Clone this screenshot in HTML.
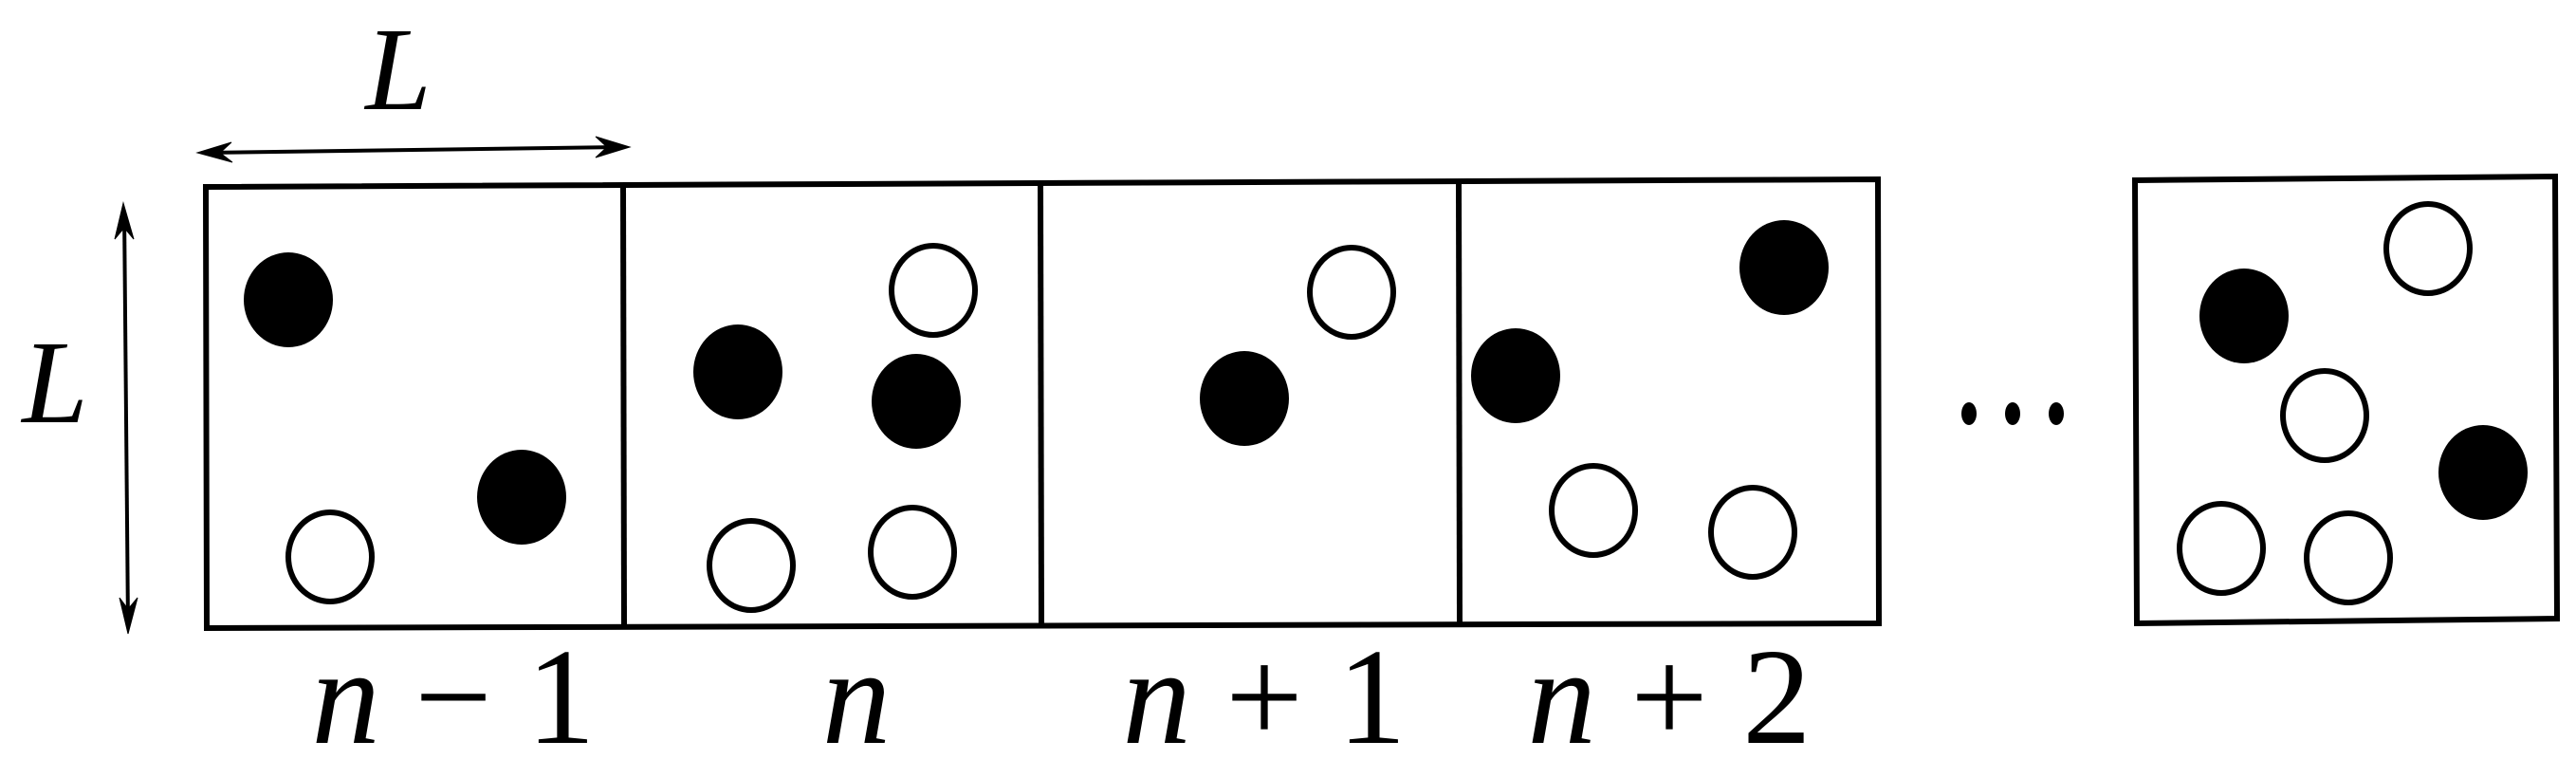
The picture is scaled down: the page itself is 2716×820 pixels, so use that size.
<!DOCTYPE html>
<html><head><meta charset="utf-8"><style>html,body{margin:0;padding:0;background:#fff}svg{display:block}</style></head>
<body>
<svg width="2716" height="820" viewBox="0 0 2716 820" xmlns="http://www.w3.org/2000/svg">
<g fill="none" stroke="#000" stroke-width="6">
<polygon points="217,197 1980,189 1981,657 218,662"/>
<line x1="657" y1="196" x2="658" y2="660"/>
<line x1="1097" y1="194" x2="1098" y2="659"/>
<line x1="1538" y1="192" x2="1539" y2="658"/>
<polygon points="2251,190 2694,186 2696,652 2253,657"/>
</g>
<g stroke="#000" stroke-width="4" fill="#000">
<line x1="215" y1="161" x2="655" y2="155"/>
<polygon points="208,161 244,150 232,161 245,171" stroke-width="1"/>
<polygon points="664,155 628,144 640,155 628,166" stroke-width="1"/>
<line x1="131" y1="222" x2="135" y2="660"/>
<polygon points="130,214 121,252 131,240 141,252" stroke-width="1"/>
<polygon points="135,668 126,630 135,642 145,630" stroke-width="1"/>
</g>
<g fill="#000">
<ellipse cx="304" cy="316" rx="47" ry="50"/>
<ellipse cx="550" cy="524" rx="47" ry="50"/>
<ellipse cx="778" cy="392" rx="47" ry="50"/>
<ellipse cx="966" cy="423" rx="47" ry="50"/>
<ellipse cx="1312" cy="420" rx="47" ry="50"/>
<ellipse cx="1881" cy="282" rx="47" ry="50"/>
<ellipse cx="1598" cy="396" rx="47" ry="50"/>
<ellipse cx="2366" cy="333" rx="47" ry="50"/>
<ellipse cx="2618" cy="498" rx="47" ry="50"/>
<ellipse cx="2076" cy="436" rx="8" ry="12"/>
<ellipse cx="2122" cy="436" rx="8" ry="12"/>
<ellipse cx="2168" cy="436" rx="8" ry="12"/>
</g>
<g fill="#fff" stroke="#000" stroke-width="6">
<ellipse cx="348" cy="587" rx="44" ry="47"/>
<ellipse cx="984" cy="306" rx="44" ry="47"/>
<ellipse cx="792" cy="596" rx="44" ry="47"/>
<ellipse cx="962" cy="582" rx="44" ry="47"/>
<ellipse cx="1425" cy="308" rx="44" ry="47"/>
<ellipse cx="1680" cy="538" rx="44" ry="47"/>
<ellipse cx="1848" cy="561" rx="44" ry="47"/>
<ellipse cx="2560" cy="262" rx="44" ry="47"/>
<ellipse cx="2451" cy="438" rx="44" ry="47"/>
<ellipse cx="2342" cy="578" rx="44" ry="47"/>
<ellipse cx="2476" cy="588" rx="44" ry="47"/>
</g>
<g font-family="Liberation Serif, serif" font-size="125" fill="#000">
<text x="420" y="115" text-anchor="middle" font-style="italic">L</text>
<text x="58" y="445" text-anchor="middle" font-style="italic">L</text>
</g>
<g font-family="Liberation Serif, serif" font-size="145" fill="#000" text-anchor="middle">
<text x="478" y="783"><tspan font-style="italic">n</tspan> − 1</text>
<text x="903" y="783" font-style="italic">n</text>
<text x="1333" y="783"><tspan font-style="italic">n</tspan> + 1</text>
<text x="1760" y="783"><tspan font-style="italic">n</tspan> + 2</text>
</g>
</svg>
</body></html>
